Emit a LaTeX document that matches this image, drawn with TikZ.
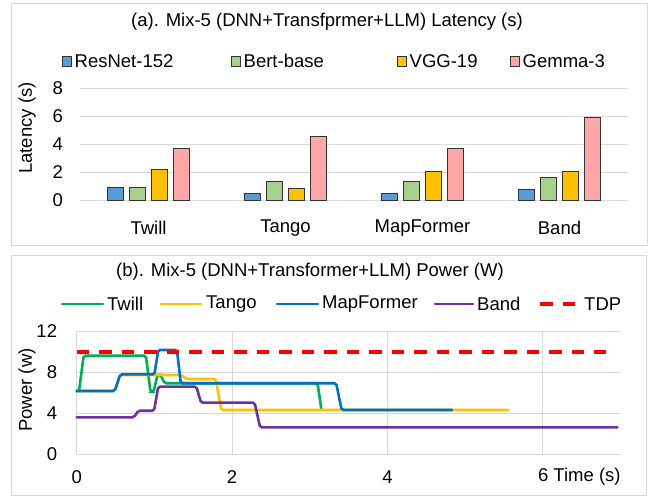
\documentclass[tikz,border=0pt]{standalone}
\usepackage{fontspec}
\setmainfont{Liberation Sans}
\definecolor{cblue}{HTML}{5B9BD5}
\definecolor{cgreen}{HTML}{A9D18E}
\definecolor{cyellow}{HTML}{FFC000}
\definecolor{cpink}{HTML}{FFA7A7}
\definecolor{gridc}{HTML}{D9D9D9}
\definecolor{frame}{HTML}{D9D9D9}
\definecolor{lgreen}{HTML}{00B050}
\definecolor{lyellow}{HTML}{FFC000}
\definecolor{lblue}{HTML}{0070C0}
\definecolor{lpurple}{HTML}{7030A0}
\definecolor{lred}{HTML}{FF0000}
\begin{document}
\begin{tikzpicture}[x=1pt,y=-1pt,
  txt/.style={font=\fontsize{18.5}{22}\selectfont, inner sep=0pt, text=black},
  panel/.style={draw=frame, line width=1pt},
  gridline/.style={draw=gridc, line width=1pt},
  barline/.style={draw=black!80, line width=1pt},
  legmark/.style={draw=black!80, line width=1pt},
  series/.style={line width=2.6pt, rounded corners=1.8pt, line cap=round},
  tdpline/.style={line width=3.4pt, draw=lred, dash pattern=on 12.5pt off 10pt}
]
\useasboundingbox (0,0) rectangle (656,496);
\fill[white] (0,0) rectangle (656,496);
% ---------------- panel (a)
\draw[panel] (11.7,3.3) rectangle (647,245.7);
\node[txt] (ta) at (327,21.7) {(a). Mix-5 (DNN+Transfprmer+LLM) Latency (s)};
% legend
\draw[legmark, fill=cblue] (62,56.5) rectangle (71.5,66);
\node[txt, anchor=west] (la1) at (74.5,61) {ResNet-152};
\draw[legmark, fill=cgreen] (231,56.5) rectangle (240.5,66);
\node[txt, anchor=west] (la2) at (243.5,61) {Bert-base};
\draw[legmark, fill=cyellow] (397,56.5) rectangle (406.5,66);
\node[txt, anchor=west] (la3) at (409.5,61) {VGG-19};
\draw[legmark, fill=cpink] (510,56.5) rectangle (519.5,66);
\node[txt, anchor=west] (la4) at (522.5,61) {Gemma-3};
% grid
\foreach \v in {0,2,4,6,8}{
  \draw[gridline] (80,{200.3-14*\v}) -- (628,{200.3-14*\v});
  \node[txt, anchor=east] (ya\v) at (63,{200.3-14*\v}) {\v};
}
\node[txt, rotate=90] (yla) at (27,128) {Latency (s)};
% bars
\foreach \c/\va/\vb/\vc/\vd/\nm in {148.5/0.9/0.9/2.2/3.7/Twill, 285.5/0.5/1.36/0.86/4.57/Tango, 422.5/0.5/1.36/2.09/3.69/MapFormer, 559.5/0.76/1.64/2.09/5.9/Band}{
  \draw[barline, fill=cblue]   (\c-40.6,200.3) rectangle (\c-24.6,{200.3-14*\va});
  \draw[barline, fill=cgreen]  (\c-18.9,200.3) rectangle (\c-2.9,{200.3-14*\vb});
  \draw[barline, fill=cyellow] (\c+2.9,200.3) rectangle (\c+18.9,{200.3-14*\vc});
  \draw[barline, fill=cpink]   (\c+24.6,200.3) rectangle (\c+40.6,{200.3-14*\vd});
  \node[txt] (cat\nm) at (\c,228) {\nm};
}
% ---------------- panel (b)
\draw[panel] (11.7,255) rectangle (646,495);
\node[txt] (tb) at (310,271.7) {(b). Mix-5 (DNN+Transformer+LLM) Power (W)};
% legend
\draw[series, draw=lgreen] (62,304) -- (103,304);
\node[txt, anchor=west] (lb1) at (107,304) {Twill};
\draw[series, draw=lyellow] (161,304) -- (201,304);
\node[txt, anchor=west] (lb2) at (206,304) {Tango};
\draw[series, draw=lblue] (277,304) -- (318,304);
\node[txt, anchor=west] (lb3) at (322,304) {MapFormer};
\draw[series, draw=lpurple] (435,304) -- (473,304);
\node[txt, anchor=west] (lb4) at (477,304) {Band};
\draw[tdpline] (540,304) -- (580,304);
\node[txt, anchor=west] (lb5) at (584,304) {TDP};
\node[txt, rotate=90] (ylb) at (27,390) {Power (w)};
\begin{scope}[shift={(76.7,454.3)}, x=77.7pt, y=10.25pt]
  \foreach \p in {0,4,8,12}{
    \draw[gridline] (0,\p) -- (7,\p);
    \node[txt, anchor=east] (yb\p) at (-0.25,\p) {\p};
  }
  \foreach \t in {2,4,6}{
    \draw[gridline] (\t,0) -- (\t,12);
  }
  \draw[gridline] (0,0) -- (0,12);
  \node[txt] (xb0) at (0,-2.2) {0};
  \node[txt] (xb2) at (2,-2.2) {2};
  \node[txt] (xb4) at (4,-2.2) {4};
  \node[txt, anchor=west] (xb6) at (5.935,-2.2) {6 Time (s)};
  % series
  \draw[series, draw=lgreen] (0,6.18) -- (0.03,6.18) -- (0.09,9.62) -- (0.89,9.62) -- (0.95,6.1) -- (0.99,6.1) -- (1.04,7.74) -- (1.08,7.74) -- (1.13,6.93) -- (3.10,6.93) -- (3.15,4.32);
  \draw[series, draw=lyellow] (0,6.18) -- (0.49,6.18) -- (0.56,7.74) -- (1.35,7.74) -- (1.41,7.35) -- (1.79,7.35) -- (1.86,4.32) -- (5.56,4.32);
  \draw[series, draw=lblue] (0,6.18) -- (0.49,6.18) -- (0.56,7.8) -- (1.0,7.8) -- (1.05,10.18) -- (1.29,10.18) -- (1.34,6.93) -- (3.34,6.93) -- (3.41,4.32) -- (4.83,4.32);
  \draw[series, draw=lpurple] (0,3.61) -- (0.74,3.61) -- (0.79,4.25) -- (0.995,4.25) -- (1.05,6.6) -- (1.54,6.6) -- (1.60,5.04) -- (2.29,5.04) -- (2.36,2.63) -- (6.96,2.63);
  \draw[tdpline] (0,10) -- (6.81,10);
\end{scope}
\end{tikzpicture}
\end{document}
